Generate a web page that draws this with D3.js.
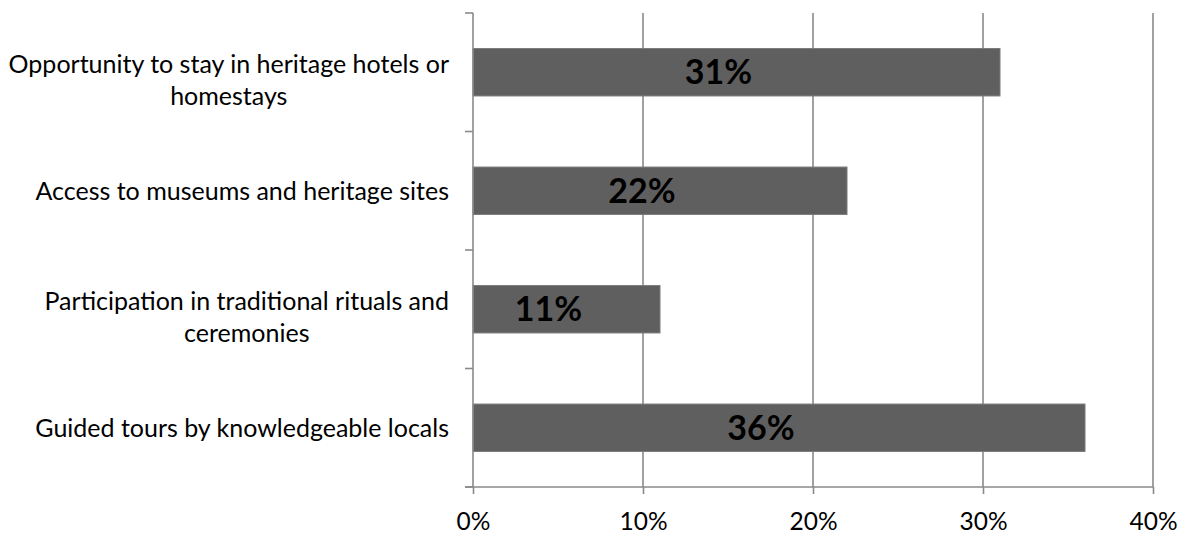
<!DOCTYPE html>
<html>
<head>
<meta charset="utf-8">
<script src="https://cdn.jsdelivr.net/npm/d3@7"></script>
<style>
  html, body { margin: 0; padding: 0; background: #fff; }
  svg { display: block; }
  text { font-family: Lato, "Open Sans", sans-serif; fill: #000; }
</style>
</head>
<body>
<svg id="chart" width="1180" height="536"></svg>
<script>
// Categories listed top to bottom
const categories = [
  "Opportunity to stay in heritage hotels or homestays",
  "Access to museums and heritage sites",
  "Participation in traditional rituals and ceremonies",
  "Guided tours by knowledgeable locals"
];
const values = [31, 22, 11, 36];
const tickValues = [0, 10, 20, 30, 40];

const W = 1180, H = 536;
const margin = { top: 13, right: 28, bottom: 49, left: 473 };
const plotW = W - margin.left - margin.right;
const plotH = H - margin.top - margin.bottom;

const svg = d3.select("#chart");
const g = svg.append("g").attr("transform", `translate(${margin.left},${margin.top})`);

const x = d3.scaleLinear().domain([0, 40]).range([0, plotW + 1]);
const y = d3.scaleBand().domain(categories).range([0, plotH]).paddingInner(0.6).paddingOuter(0.3);

const axisColor = "#8a8a8a";

// Vertical gridlines
g.append("g").selectAll("line")
  .data(tickValues.filter(d => d > 0))
  .join("line")
  .attr("x1", d => x(d)).attr("x2", d => x(d))
  .attr("y1", 0).attr("y2", plotH)
  .attr("stroke", axisColor).attr("stroke-width", 1.6);

// Bars
g.append("g").selectAll("rect")
  .data(values)
  .join("rect")
  .attr("x", 0)
  .attr("y", (d, i) => y(categories[i]))
  .attr("width", d => x(d))
  .attr("height", y.bandwidth())
  .attr("fill", "#5f5f5f")
  .attr("stroke", "#7a7a7a")
  .attr("stroke-width", 1);

// Value labels inside bars
g.append("g").selectAll("text")
  .data(values)
  .join("text")
  .attr("x", d => x(d) / 2 - 18)
  .attr("y", (d, i) => y(categories[i]) + y.bandwidth() / 2 + 12)
  .attr("text-anchor", "middle")
  .attr("font-size", 34)
  .attr("font-weight", "bold")
  .text(d => d + "%");

// Bottom axis
const xAxis = d3.axisBottom(x).tickValues(tickValues).tickFormat(d => d + "%").tickSize(7).tickSizeOuter(0);
const gx = g.append("g").attr("transform", `translate(0,${plotH})`).call(xAxis);
gx.select(".domain").remove();
gx.append("line").attr("x1", -8).attr("x2", plotW + 1).attr("y1", 0).attr("y2", 0)
  .attr("stroke", axisColor).attr("stroke-width", 1.6);
gx.selectAll(".tick line").attr("stroke", axisColor).attr("stroke-width", 1.6);
gx.selectAll(".tick text").attr("font-size", 24.5).attr("dy", 0).attr("y", 43)
  .style("font-family", "Lato, 'Open Sans', sans-serif").attr("fill", "#000");

// Left axis: line with ticks at the category boundaries
const gy = g.append("g");
gy.append("line").attr("x1", 0).attr("x2", 0).attr("y1", 0).attr("y2", plotH)
  .attr("stroke", axisColor).attr("stroke-width", 1.6);
const edges = [0].concat(categories.map((c, i) => i === categories.length - 1 ? plotH : (y(c) + y.bandwidth() + y(categories[i + 1])) / 2));
gy.selectAll("line.tick")
  .data(edges)
  .join("line")
  .attr("class", "tick")
  .attr("x1", -8).attr("x2", 0)
  .attr("y1", d => d).attr("y2", d => d)
  .attr("stroke", axisColor).attr("stroke-width", 1.6);

// Category labels, wrapped and centred as a block right-aligned at the axis
const labelSize = 25;
const labelRight = -24;
const maxLine = 462;
const labels = g.append("g");
categories.forEach((c, i) => {
  const t = labels.append("text").attr("font-size", labelSize).attr("text-anchor", "middle");
  const words = c.split(" ");
  const lines = [];
  let cur = [];
  const probe = labels.append("text").attr("font-size", labelSize);
  words.forEach(w => {
    const trial = cur.concat(w).join(" ");
    probe.text(trial);
    if (probe.node().getComputedTextLength() > maxLine && cur.length) {
      lines.push(cur.join(" "));
      cur = [w];
    } else {
      cur.push(w);
    }
  });
  lines.push(cur.join(" "));
  // Keep the trailing word on its own line for the longer labels
  if (lines.length === 1 && words.length > 6) {
    lines[0] = words.slice(0, -1).join(" ");
    lines.push(words[words.length - 1]);
  }
  let widest = 0;
  lines.forEach(l => { probe.text(l); widest = Math.max(widest, probe.node().getComputedTextLength()); });
  probe.remove();
  const cx = labelRight - widest / 2;
  const lh = 32;
  const cy = y(c) + y.bandwidth() / 2;
  const firstBase = cy + 9 - (lines.length - 1) * lh / 2 + (lines.length > 1 ? 8 : 0);
  lines.forEach((l, k) => {
    t.append("tspan").attr("x", cx).attr("y", firstBase + k * lh).text(l);
  });
});
</script>
</body>
</html>
